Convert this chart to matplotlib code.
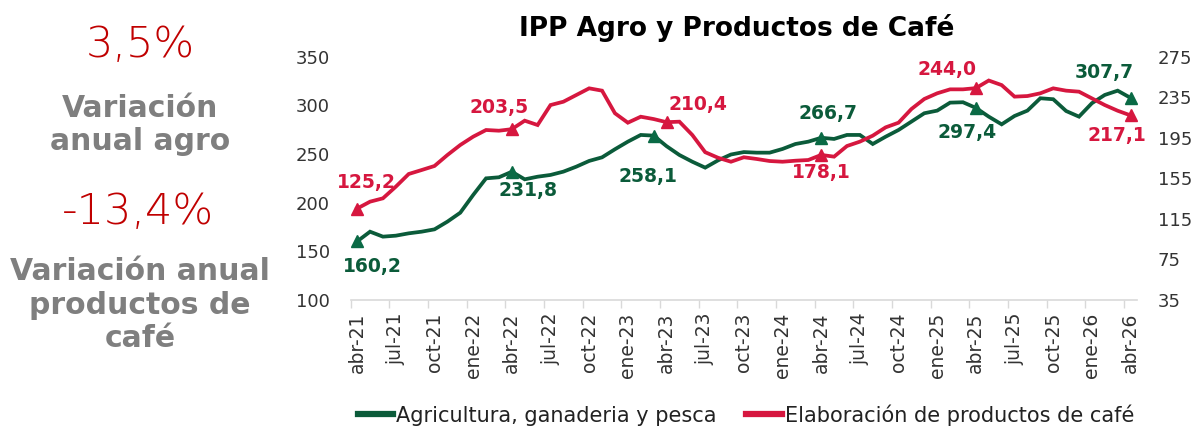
import matplotlib
matplotlib.use("Agg")
import matplotlib.pyplot as plt
import numpy as np
from matplotlib.lines import Line2D

# ---------------- data ----------------
months = ["ene", "feb", "mar", "abr", "may", "jun", "jul", "ago", "sep", "oct", "nov", "dic"]
date_labels = []
m, y = 3, 21
for _ in range(61):
    date_labels.append(f"{months[m]}-{y}")
    m += 1
    if m == 12:
        m, y = 0, y + 1

agro = [160.2, 170.2, 165.1, 166.1, 168.5, 170.2, 172.6, 180.5, 189.7, 207.9,
        225.0, 226.1, 231.8, 224.0, 226.7, 228.5, 231.9, 237.0, 242.9, 246.6,
        254.9, 262.7, 269.6, 268.9, 258.1, 249.0, 242.1, 236.0, 243.5, 249.5,
        252.0, 251.4, 251.4, 255.2, 260.3, 262.7, 266.7, 265.5, 269.6, 269.6,
        260.3, 267.8, 274.7, 283.3, 291.9, 294.6, 302.8, 303.2, 297.4, 288.4,
        280.5, 289.1, 294.6, 307.3, 306.3, 294.2, 288.4, 302.2, 310.7, 315.1,
        307.7]

cafe = [125.2, 132.0, 135.3, 146.8, 159.3, 163.2, 167.2, 178.0, 187.9, 196.1,
        202.7, 202.0, 203.5, 211.9, 207.6, 227.3, 230.6, 237.2, 243.8, 241.5,
        219.2, 209.9, 215.8, 213.5, 210.4, 210.9, 197.8, 180.8, 175.3, 171.4,
        175.8, 174.1, 172.1, 171.4, 172.4, 173.1, 178.1, 176.4, 186.9, 191.2,
        197.1, 205.3, 209.9, 223.4, 233.3, 238.9, 242.8, 242.8, 244.0, 251.5,
        247.0, 235.6, 236.2, 238.9, 243.8, 241.5, 240.5, 233.9, 227.3, 221.7,
        217.1]

agro_marker_idx = [0, 12, 23, 36, 48, 60]
agro_label_values = [160.2, 231.8, 258.1, 266.7, 297.4, 307.7]
cafe_marker_idx = [0, 12, 24, 36, 48, 60]
cafe_label_values = [125.2, 203.5, 210.4, 178.1, 244.0, 217.1]

left_ticks = [100, 150, 200, 250, 300, 350]
right_ticks = [35, 75, 115, 155, 195, 235, 275]

var_agro = "3,5%"
var_cafe = "-13,4%"

series_names = ["Agricultura, ganaderia y pesca", "Elaboración de productos de café"]

# ---------------- style ----------------
GREEN = "#0B5B3A"
GREEN_M = "#0A6A45"
RED = "#D6173F"
GRAY_TXT = "#7F7F7F"
VAR_RED = "#C00000"
TICK_TXT = "#333333"
AXIS_GRAY = "#D9D9D9"

plt.rcParams["font.family"] = ["DejaVu Sans"]

fig = plt.figure(figsize=(11.97, 4.29), dpi=100)
ax = fig.add_axes([350.7 / 1197, 1 - 300 / 429, (1137 - 350.7) / 1197, (300 - 56.7) / 429])
ax2 = ax.twinx()

x = np.arange(len(agro))
ax.plot(x, agro, color=GREEN, lw=2.7, solid_joinstyle="miter", zorder=3)
ax2.plot(x, cafe, color=RED, lw=2.7, solid_joinstyle="miter", zorder=3)

ax.plot([x[i] for i in agro_marker_idx], [agro[i] for i in agro_marker_idx],
        linestyle="none", marker="^", ms=9, color=GREEN_M, zorder=4)
ax2.plot([x[i] for i in cafe_marker_idx], [cafe[i] for i in cafe_marker_idx],
         linestyle="none", marker="^", ms=9, color=RED, zorder=4)

def fmt(v):
    return f"{v:.1f}".replace(".", ",")

agro_offsets = [(15, -25), (16, -19), (-6, -41), (7, 24), (-9, -25), (-26, 25)]
cafe_offsets = [(9, 26), (-13, 22), (31, 18), (0, -18), (-29, 19), (-14, -20)]

for i, v, off in zip(agro_marker_idx, agro_label_values, agro_offsets):
    ax.annotate(fmt(v), (x[i], agro[i]), xytext=off, textcoords="offset pixels",
                ha="center", va="center", fontsize=13.5, fontweight="bold", color=GREEN, zorder=5)
for i, v, off in zip(cafe_marker_idx, cafe_label_values, cafe_offsets):
    ax2.annotate(fmt(v), (x[i], cafe[i]), xytext=off, textcoords="offset pixels",
                 ha="center", va="center", fontsize=13.5, fontweight="bold", color=RED, zorder=5)

ax.set_xlim(-0.5, 60.5)
ax.set_ylim(100, 350)
ax2.set_ylim(35, 275)
ax.set_yticks(left_ticks)
ax2.set_yticks(right_ticks)

ax.set_xticks(x[::3])
ax.set_xticklabels(date_labels[::3], rotation=90, fontsize=13.5, color=TICK_TXT)
ax.set_xticks(np.arange(-0.5, 60.5, 3), minor=True)
ax.tick_params(axis="x", which="major", length=0, pad=9)
ax.tick_params(axis="x", which="minor", length=6, width=1, color=AXIS_GRAY, direction="out")
ax.tick_params(axis="y", length=0, pad=15, labelsize=13, labelcolor=TICK_TXT)
ax2.tick_params(axis="y", length=0, pad=15, labelsize=13, labelcolor=TICK_TXT)

for a in (ax, ax2):
    for s in ("top", "left", "right"):
        a.spines[s].set_visible(False)
    a.spines["bottom"].set_color(AXIS_GRAY)
    a.spines["bottom"].set_linewidth(1.2)
ax2.spines["bottom"].set_visible(False)

fig.text(737 / 1197, 1 - 28 / 429, "IPP Agro y Productos de Café", ha="center", va="center",
         fontsize=19, fontweight="bold", color="black")

# legend
handles = [Line2D([], [], color=GREEN, lw=4.5), Line2D([], [], color=RED, lw=4.5)]
fig.legend(handles, series_names, loc="center", bbox_to_anchor=(746 / 1197, 1 - 415 / 429),
           ncol=2, frameon=False, fontsize=15, handlelength=1.7, handletextpad=0.15,
           columnspacing=1.4, labelcolor="#222222")

# left panel
fig.text(140 / 1197, 1 - 45 / 429, var_agro, ha="center", va="center", fontsize=31,
         color=VAR_RED, fontweight="light")
fig.text(140 / 1197, 1 - 125 / 429, "Variación\nanual agro", ha="center", va="center",
         fontsize=21.5, color=GRAY_TXT, fontweight="bold", linespacing=1.2)
fig.text(138 / 1197, 1 - 212 / 429, var_cafe, ha="center", va="center", fontsize=31,
         color=VAR_RED, fontweight="light")
fig.text(140 / 1197, 1 - 305 / 429, "Variación anual\nproductos de\ncafé", ha="center",
         va="center", fontsize=21.5, color=GRAY_TXT, fontweight="bold", linespacing=1.2)

fig.savefig("out.png", dpi=100)
